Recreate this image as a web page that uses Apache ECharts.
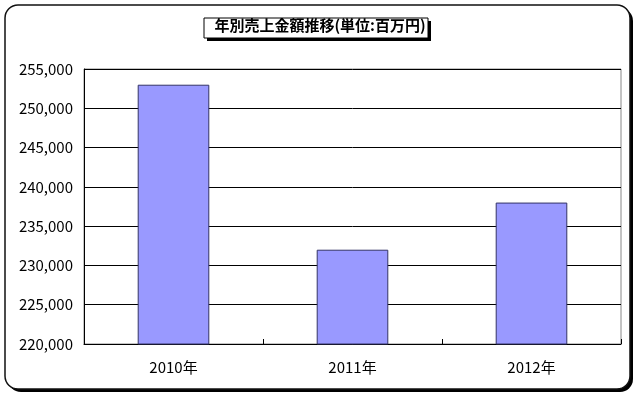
<!DOCTYPE html>
<html><head><meta charset="utf-8">
<script src="https://cdn.jsdelivr.net/npm/echarts@6/dist/echarts.min.js"></script>
<style>html,body{margin:0;padding:0;background:#fff}#c{width:640px;height:398px}</style>
</head><body><div id="c"></div>
<script>
const categories = ['2010年', '2011年', '2012年'];
const sales = [253000, 232000, 238000];
const yMin = 220000, yMax = 255000, yStep = 5000;
const titleText = '年別売上金額推移(単位:百万円)';

const chart = echarts.init(document.getElementById('c'), null, {renderer: 'canvas'});
const font = "'Noto Sans CJK JP', sans-serif";
chart.setOption({
  animation: false,
  backgroundColor: '#fff',
  graphic: [
    {type: 'rect', z: -10, silent: true, shape: {x: 8, y: 8, width: 625, height: 384, r: 13}, style: {fill: '#000'}},
    {type: 'rect', z: -9, silent: true, shape: {x: 5, y: 5, width: 625, height: 384, r: 13}, style: {fill: '#fff', stroke: '#111', lineWidth: 1.5}},
    {type: 'rect', z: 5, silent: true, shape: {x: 207, y: 21, width: 224, height: 20}, style: {fill: '#000'}},
    {type: 'rect', z: 6, silent: true, shape: {x: 204, y: 18, width: 224, height: 20}, style: {fill: '#fff', stroke: '#000', lineWidth: 1}},
    {type: 'text', z: 7, silent: true, left: 'center', top: 18, style: {text: titleText, font: "bold 15px 'Noto Sans CJK JP', sans-serif", fill: '#000', x: 316, textAlign: 'center'}}
  ],
  grid: {left: 84, right: 19, top: 69, bottom: 54, show: true, borderColor: '#888', borderWidth: 1},
  xAxis: {
    type: 'category', data: categories,
    axisLine: {lineStyle: {color: '#000', width: 1}},
    axisTick: {show: true, inside: true, length: 5, lineStyle: {color: '#000'}},
    axisLabel: {color: '#000', fontSize: 15, fontFamily: font, margin: 16}
  },
  yAxis: {
    type: 'value', min: yMin, max: yMax, interval: yStep,
    axisLine: {show: true, lineStyle: {color: '#000', width: 1}},
    axisTick: {show: false},
    splitLine: {lineStyle: {color: '#000', width: 1}},
    axisLabel: {color: '#000', fontSize: 15, fontFamily: font, margin: 11,
      formatter: v => v.toLocaleString('en-US')}
  },
  series: [{
    type: 'bar', data: sales, barWidth: '40%',
    itemStyle: {color: '#9999ff', borderColor: '#333366', borderWidth: 1}
  }]
});
</script></body></html>
